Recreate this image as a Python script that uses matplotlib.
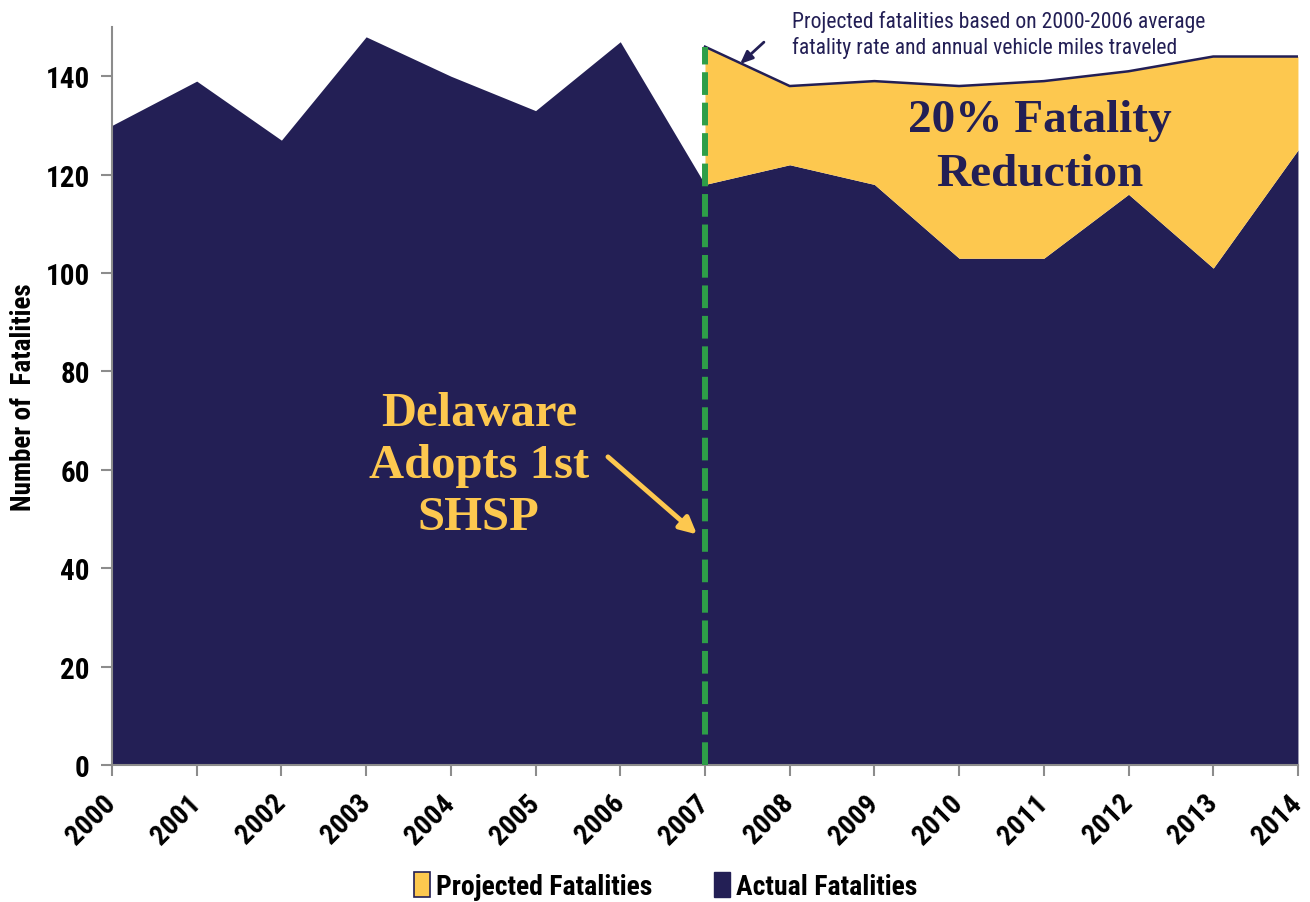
import matplotlib
matplotlib.use("Agg")
import matplotlib.pyplot as plt
from matplotlib import font_manager as fm
from matplotlib.patches import Patch

years = [2000, 2001, 2002, 2003, 2004, 2005, 2006, 2007, 2008, 2009, 2010, 2011, 2012, 2013, 2014]
actual = [130, 139, 127, 148, 140, 133, 147, 118, 122, 118, 103, 103, 116, 101, 125]
proj_years = [2007, 2008, 2009, 2010, 2011, 2012, 2013, 2014]
projected = [146, 138, 139, 138, 139, 141, 144, 144]
yticks = [0, 20, 40, 60, 80, 100, 120, 140]

NAVY = "#231F55"
GOLD = "#FDC84F"
GREEN = "#2E9E48"

# ---- pick a condensed sans font if one is installed ----
fonts = fm.fontManager.ttflist
names = {f.name for f in fonts}
narrow = None
stretch = "normal"
for cand in ["Liberation Sans Narrow", "Arial Narrow", "Roboto Condensed",
             "DejaVu Sans Condensed", "Noto Sans Condensed", "Open Sans Condensed"]:
    if cand in names:
        narrow = cand
        break
if narrow is None:
    for f in fonts:
        st = str(f.stretch)
        if st in ("condensed", "semi-condensed", "extra-condensed") or \
                (st.isdigit() and int(st) < 500):
            if f.name in ("Noto Sans", "Open Sans", "Roboto", "DejaVu Sans", "Liberation Sans"):
                narrow = f.name
                stretch = "condensed"
                break
if narrow is None:
    narrow = "Liberation Sans"
is_narrow = not (narrow == "Liberation Sans")
scale = 1.0 if is_narrow else 0.85
serif = "Liberation Serif"
nf = dict(family=narrow, stretch=stretch)

fig = plt.figure(figsize=(13.1, 9.03), dpi=100)
ax = fig.add_axes([0.0855, 0.1517, 0.9053, 0.8173])

act_proj = actual[years.index(2007):]
ax.fill_between(years, 0, actual, color=NAVY, lw=0, zorder=2)
ax.fill_between(proj_years, act_proj, projected, color=GOLD, lw=0, zorder=2)
ax.plot(proj_years, projected, color=NAVY, lw=1.8, zorder=3)
ax.plot([2007, 2007], [0, projected[0]], color=GREEN, lw=4.3,
        dashes=(3.8, 1.3), zorder=4)

ax.set_xlim(2000, 2014)
ax.set_ylim(0, 150)
ax.set_xticks(years)
ax.set_xticklabels([str(y) for y in years], rotation=45, ha="right",
                   va="center", rotation_mode="anchor", fontsize=20.5 * scale,
                   fontweight="bold", **nf)
ax.set_yticks(yticks)
ax.set_yticklabels([str(v) for v in yticks], fontsize=21 * scale,
                   fontweight="bold", **nf)
ax.tick_params(axis="both", color="#8C8C8C", length=8, width=1.5, direction="out")
ax.tick_params(axis="x", pad=16)
ax.tick_params(axis="y", pad=8)
for s in ["top", "right"]:
    ax.spines[s].set_visible(False)
for s in ["left", "bottom"]:
    ax.spines[s].set_color("#8C8C8C")
    ax.spines[s].set_linewidth(1.5)

ax.set_ylabel("Number of  Fatalities", fontsize=19.5 * scale, fontweight="bold",
              labelpad=6, **nf)

ax.text(2010.95, 125.6, "20% Fatality\nReduction", ha="center", va="center",
        fontsize=34, fontweight="bold", family=serif, color=NAVY,
        linespacing=1.38, zorder=5)
ax.text(2004.33, 61.0, "Delaware\nAdopts 1st\nSHSP", ha="center", va="center",
        fontsize=35, fontweight="bold", family=serif, color=GOLD,
        linespacing=1.23, zorder=5)
ax.annotate("", xy=(2006.93, 46.5), xytext=(2005.83, 63),
            arrowprops=dict(arrowstyle="-|>,head_length=1.0,head_width=0.5",
                            color=GOLD, lw=3.5), zorder=5)

ax.text(2008.03, 148.6, "Projected fatalities based on 2000-2006 average\n"
        "fatality rate and annual vehicle miles traveled",
        ha="left", va="center", fontsize=15.6 * scale, color=NAVY,
        linespacing=1.22, clip_on=False, zorder=5, **nf)
ax.annotate("", xy=(2007.39, 142.1), xytext=(2007.72, 147.3),
            arrowprops=dict(arrowstyle="-|>,head_length=0.75,head_width=0.32",
                            color=NAVY, lw=2), annotation_clip=False, zorder=5)

handles = [Patch(facecolor=GOLD, edgecolor=NAVY, lw=1.2, label="Projected Fatalities"),
           Patch(facecolor=NAVY, edgecolor=NAVY, label="Actual Fatalities")]
fig.legend(handles=handles, loc="center", bbox_to_anchor=(0.508, 0.018),
           ncol=2, frameon=False, handlelength=0.6, handleheight=1.0,
           handletextpad=0.2, columnspacing=2.2,
           prop=dict(family=narrow, stretch=stretch, weight="bold",
                     size=20 * scale))

fig.savefig("out.png", dpi=100)
